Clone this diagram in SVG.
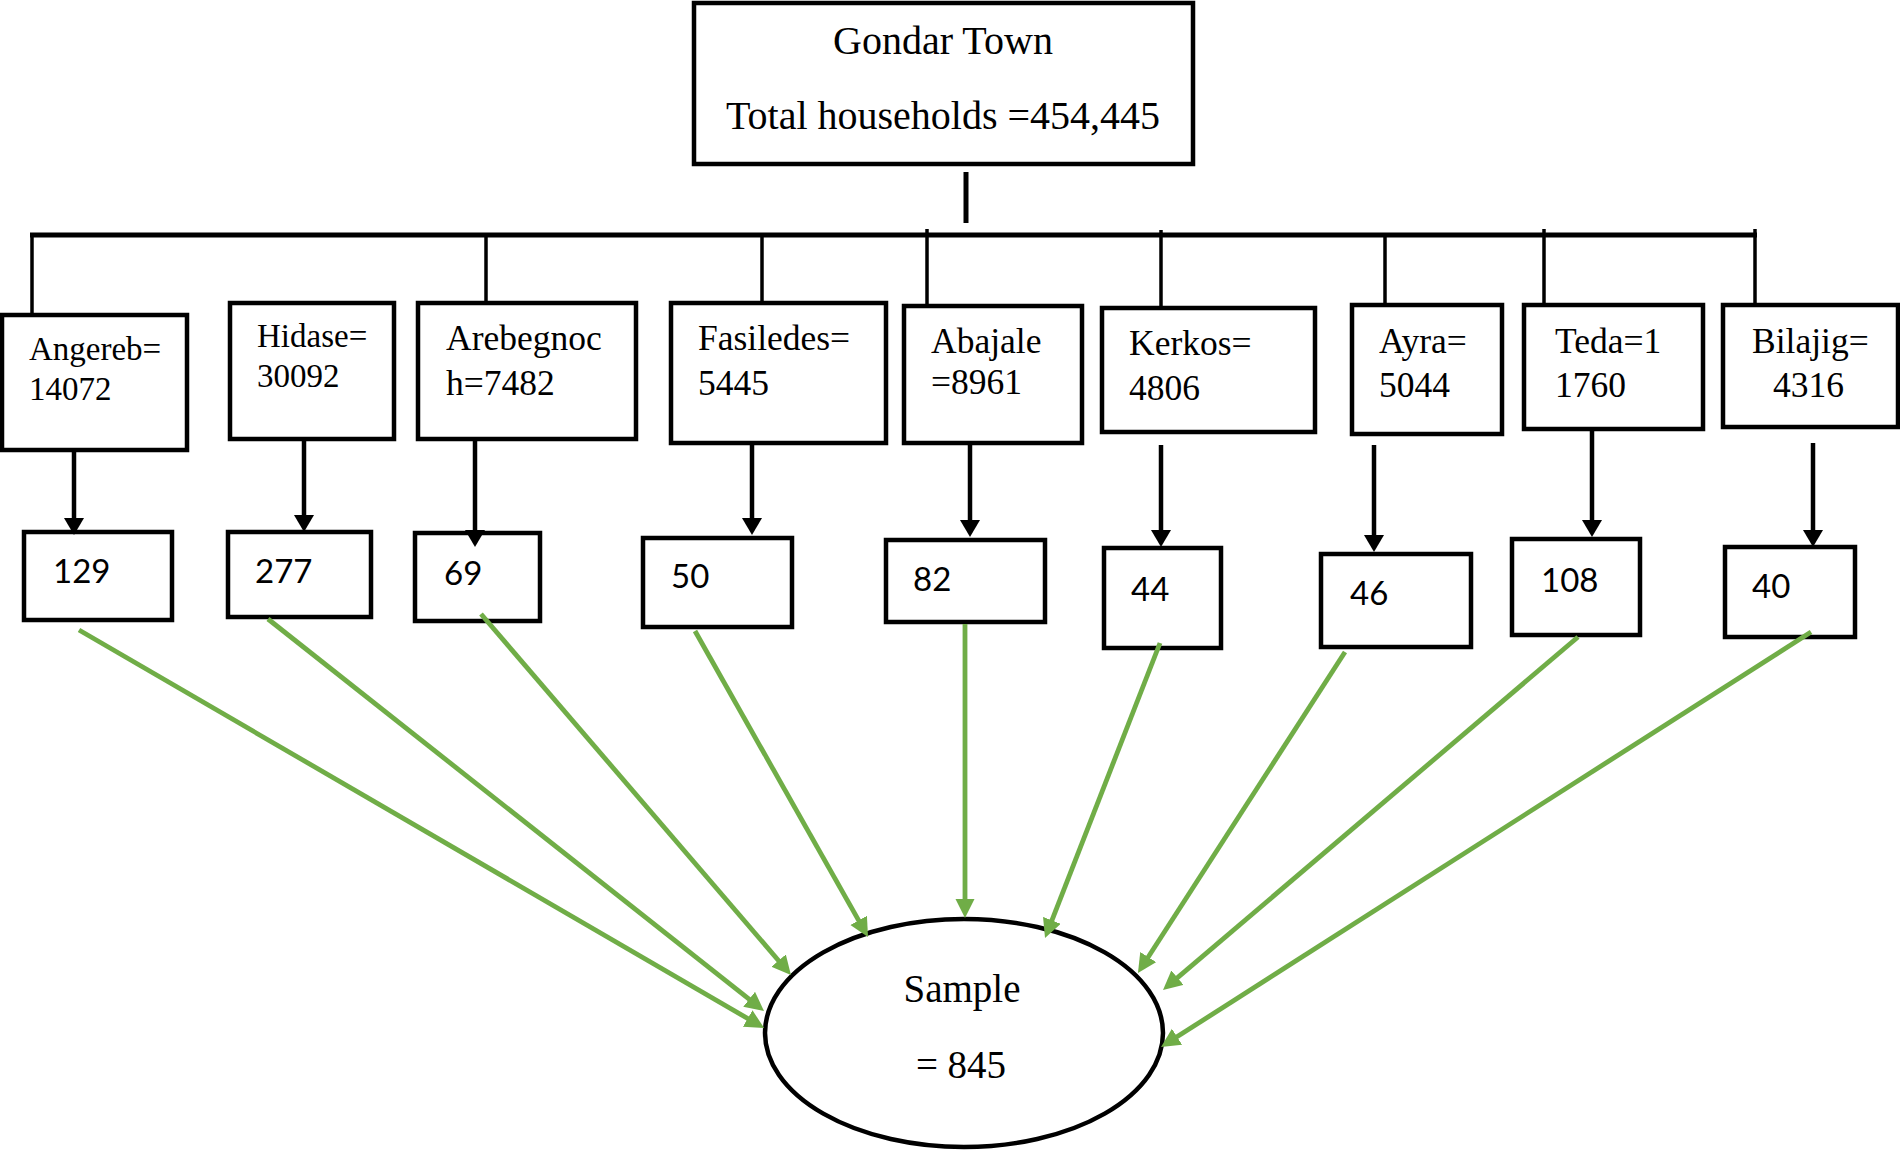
<svg xmlns="http://www.w3.org/2000/svg" width="1900" height="1150" viewBox="0 0 1900 1150">
<style>
.box{fill:#fff;stroke:#000;stroke-width:4.5}
.serif{font-family:"Liberation Serif","Times New Roman",serif;fill:#000}
.s33{font-size:33px}
.s35{font-size:35.5px}
.s39{font-size:40px}
.num{font-family:Lato,"Liberation Sans",sans-serif;font-size:33px;fill:#000}
.bus{stroke:#000;stroke-width:3.5;fill:none}
.blk{stroke:#000;stroke-width:4.5;fill:none}
.grn{stroke:#70AD47;stroke-width:4.8;fill:none}
</style>
<defs>
<marker id="ab" markerUnits="userSpaceOnUse" markerWidth="18" markerHeight="21" refX="8" refY="10" orient="auto"><path d="M0,0 L17,10 L0,20 z" fill="#000"/></marker>
<marker id="ag" markerUnits="userSpaceOnUse" markerWidth="20" markerHeight="20" refX="8" refY="9.5" orient="auto"><path d="M0,0 L19,9.5 L0,19 z" fill="#70AD47"/></marker>
</defs>
<rect width="1900" height="1150" fill="#fff"/>

<g id="top">
<rect class="box" x="694" y="3" width="499" height="161"/>
<text class="serif s39" x="943" y="54" text-anchor="middle">Gondar Town</text>
<text class="serif s39" x="943" y="129" text-anchor="middle">Total households =454,445</text>
</g>

<g id="angereb">
<rect class="box" x="2" y="315" width="185" height="135"/>
<text class="serif s33" x="29" y="360">Angereb=</text>
<text class="serif s33" x="29" y="400">14072</text>
</g>
<g id="hidase">
<rect class="box" x="230" y="303" width="164" height="136"/>
<text class="serif s33" x="257" y="347">Hidase=</text>
<text class="serif s33" x="257" y="387">30092</text>
</g>
<g id="arebegnoch">
<rect class="box" x="418" y="303" width="218" height="136"/>
<text class="serif s35" x="446" y="350">Arebegnoc</text>
<text class="serif s35" x="446" y="395">h=7482</text>
</g>
<g id="fasiledes">
<rect class="box" x="671" y="303" width="215" height="140"/>
<text class="serif s35" x="698" y="350">Fasiledes=</text>
<text class="serif s35" x="698" y="395">5445</text>
</g>
<g id="abajale">
<rect class="box" x="904" y="306" width="178" height="137"/>
<text class="serif s35" x="931" y="353">Abajale</text>
<text class="serif s35" x="931" y="394">=8961</text>
</g>
<g id="kerkos">
<rect class="box" x="1102" y="308" width="213" height="124"/>
<text class="serif s35" x="1129" y="355">Kerkos=</text>
<text class="serif s35" x="1129" y="400">4806</text>
</g>
<g id="ayra">
<rect class="box" x="1352" y="305" width="150" height="129"/>
<text class="serif s35" x="1379" y="353">Ayra=</text>
<text class="serif s35" x="1379" y="397">5044</text>
</g>
<g id="teda">
<rect class="box" x="1524" y="305" width="179" height="124"/>
<text class="serif s35" x="1555" y="353">Teda=1</text>
<text class="serif s35" x="1555" y="397">1760</text>
</g>
<g id="bilajig">
<rect class="box" x="1723" y="305" width="175" height="122"/>
<text class="serif s35" x="1752" y="353">Bilajig=</text>
<text class="serif s35" x="1773" y="397">4316</text>
</g>

<g id="s129"><rect class="box" x="24" y="532" width="148" height="88"/><text class="num" x="53" y="583">129</text></g>
<g id="s277"><rect class="box" x="228" y="532" width="143" height="85"/><text class="num" x="255" y="583">277</text></g>
<g id="s69"><rect class="box" x="415" y="533" width="125" height="88"/><text class="num" x="444" y="585">69</text></g>
<g id="s50"><rect class="box" x="643" y="538" width="149" height="89"/><text class="num" x="671" y="588">50</text></g>
<g id="s82"><rect class="box" x="886" y="540" width="159" height="82"/><text class="num" x="913" y="591">82</text></g>
<g id="s44"><rect class="box" x="1104" y="548" width="117" height="100"/><text class="num" x="1131" y="601">44</text></g>
<g id="s46"><rect class="box" x="1321" y="554" width="150" height="93"/><text class="num" x="1350" y="605">46</text></g>
<g id="s108"><rect class="box" x="1512" y="539" width="128" height="96"/><text class="num" x="1541" y="592">108</text></g>
<g id="s40"><rect class="box" x="1725" y="547" width="130" height="90"/><text class="num" x="1752" y="598">40</text></g>

<g id="sample">
<ellipse cx="964" cy="1033" rx="199" ry="114" fill="#fff" stroke="#000" stroke-width="4.5"/>
<text class="serif" x="962" y="1002" text-anchor="middle" style="font-size:39px">Sample</text>
<text class="serif" x="961" y="1078" text-anchor="middle" style="font-size:39px">= 845</text>
</g>

<g id="connectors">
<line class="blk" x1="966" y1="172" x2="966" y2="223" style="stroke-width:5"/>
<line class="blk" x1="30" y1="235" x2="1757" y2="235" style="stroke-width:5"/>
<line class="bus" x1="32" y1="233" x2="32" y2="314"/>
<line class="bus" x1="486" y1="237" x2="486" y2="302"/>
<line class="bus" x1="762" y1="237" x2="762" y2="302"/>
<line class="bus" x1="927" y1="229" x2="927" y2="305"/>
<line class="bus" x1="1161" y1="230" x2="1161" y2="307"/>
<line class="bus" x1="1385" y1="237" x2="1385" y2="304"/>
<line class="bus" x1="1544" y1="229" x2="1544" y2="304"/>
<line class="bus" x1="1755" y1="229" x2="1755" y2="304"/>

<line class="blk" x1="74" y1="452" x2="74" y2="526" marker-end="url(#ab)"/>
<line class="blk" x1="304" y1="441" x2="304" y2="523" marker-end="url(#ab)"/>
<line class="blk" x1="475" y1="441" x2="475" y2="538" marker-end="url(#ab)"/>
<line class="blk" x1="752" y1="445" x2="752" y2="526" marker-end="url(#ab)"/>
<line class="blk" x1="970" y1="445" x2="970" y2="528" marker-end="url(#ab)"/>
<line class="blk" x1="1161" y1="445" x2="1161" y2="538" marker-end="url(#ab)"/>
<line class="blk" x1="1374" y1="445" x2="1374" y2="543" marker-end="url(#ab)"/>
<line class="blk" x1="1592" y1="431" x2="1592" y2="528" marker-end="url(#ab)"/>
<line class="blk" x1="1813" y1="443" x2="1813" y2="538" marker-end="url(#ab)"/>

<line class="grn" x1="79" y1="630" x2="754.6" y2="1022.5" marker-end="url(#ag)"/>
<line class="grn" x1="268" y1="619" x2="755.4" y2="1004.2" marker-end="url(#ag)"/>
<line class="grn" x1="481" y1="614" x2="783.8" y2="966.7" marker-end="url(#ag)"/>
<line class="grn" x1="695" y1="631" x2="862.6" y2="927.4" marker-end="url(#ag)"/>
<line class="grn" x1="965" y1="624" x2="965" y2="907" marker-end="url(#ag)"/>
<line class="grn" x1="1160" y1="643" x2="1049" y2="927.8" marker-end="url(#ag)"/>
<line class="grn" x1="1345" y1="652" x2="1143.9" y2="963.8" marker-end="url(#ag)"/>
<line class="grn" x1="1578" y1="637" x2="1171.4" y2="982.9" marker-end="url(#ag)"/>
<line class="grn" x1="1811" y1="632" x2="1170.3" y2="1041.1" marker-end="url(#ag)"/>
</g>
</svg>
